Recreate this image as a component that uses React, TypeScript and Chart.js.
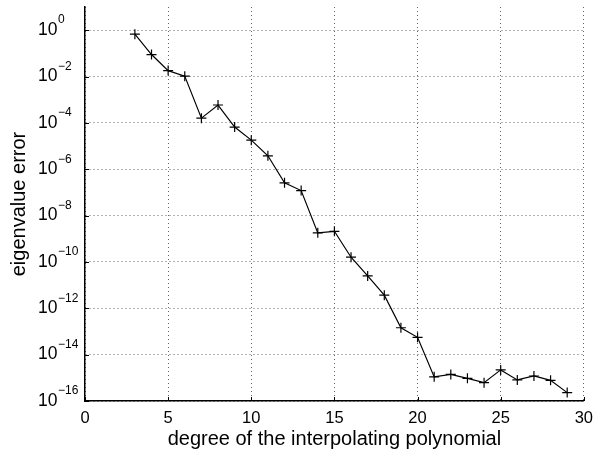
import React, { useEffect, useRef } from "react";
import { Chart, registerables } from "chart.js";

Chart.register(...registerables);

const degrees = [3, 4, 5, 6, 7, 8, 9, 10, 11, 12, 13, 14, 15, 16, 17, 18, 19, 20, 21, 22, 23, 24, 25, 26, 27, 28, 29];
const errors = [
  0.67, 0.089, 0.018, 0.0104, 1.6e-4, 5.9e-4, 6.6e-5, 1.8e-5, 3.8e-6, 2.6e-7, 1.2e-7,
  1.8e-9, 2.1e-9, 1.6e-10, 2.5e-11, 3.7e-12, 1.45e-13, 5.6e-14, 1.1e-15, 1.4e-15,
  9.5e-16, 6.2e-16, 2.2e-15, 8.1e-16, 1.2e-15, 7.8e-16, 2.3e-16,
];
const xTicks = [0, 5, 10, 15, 20, 25, 30];
const yExponents = [-16, -14, -12, -10, -8, -6, -4, -2, 0];
const xTitle = "degree of the interpolating polynomial";
const yTitle = "eigenvalue error";

const FONT = "'Liberation Sans', Arial, Helvetica, sans-serif";

export default function App() {
  const ref = useRef<HTMLCanvasElement | null>(null);

  useEffect(() => {
    if (!ref.current) return;
    const overlay = {
      id: "matlabOverlay",
      afterDraw(chart: any) {
        const ctx = chart.ctx as CanvasRenderingContext2D;
        const xs = chart.scales.x;
        const ys = chart.scales.y;
        const area = chart.chartArea;
        ctx.save();
        ctx.fillStyle = "#000";
        ctx.strokeStyle = "#000";
        ctx.lineWidth = 1;
        // inward ticks
        ctx.beginPath();
        for (const v of xTicks) {
          const px = Math.round(xs.getPixelForValue(v)) + 0.5;
          ctx.moveTo(px, area.bottom);
          ctx.lineTo(px, area.bottom - 4);
        }
        for (const e of yExponents) {
          const py = Math.round(ys.getPixelForValue(Math.pow(10, e))) + 0.5;
          ctx.moveTo(area.left, py);
          ctx.lineTo(area.left + 4, py);
        }
        ctx.stroke();
        // y tick labels with superscript exponents
        ctx.textAlign = "left";
        ctx.textBaseline = "middle";
        for (const e of yExponents) {
          const py = ys.getPixelForValue(Math.pow(10, e));
          ctx.font = `17.5px ${FONT}`;
          ctx.fillText("10", 38, py);
          const w = ctx.measureText("10").width;
          ctx.font = `12px ${FONT}`;
          const exp = e === 0 ? "0" : "\u2212" + Math.abs(e);
          ctx.fillText(exp, 38 + w + 0.5, py - 10);
        }
        // axis titles
        ctx.font = `20px ${FONT}`;
        ctx.textAlign = "center";
        ctx.textBaseline = "middle";
        ctx.fillText(xTitle, (area.left + area.right) / 2, 439);
        ctx.save();
        ctx.translate(19, (area.top + area.bottom) / 2);
        ctx.rotate(-Math.PI / 2);
        ctx.fillText(yTitle, 0, 0);
        ctx.restore();
        ctx.restore();
      },
    };

    const chart = new Chart(ref.current, {
      type: "line",
      data: {
        datasets: [
          {
            data: degrees.map((d, i) => ({ x: d, y: errors[i] })),
            borderColor: "#000",
            borderWidth: 1.2,
            pointStyle: "cross",
            pointRadius: 5,
            pointBorderWidth: 1.2,
            pointBorderColor: "#000",
            pointBackgroundColor: "#000",
            tension: 0,
            fill: false,
          },
        ],
      },
      options: {
        animation: false,
        responsive: false,
        maintainAspectRatio: false,
        layout: { padding: { top: 7, right: 17, left: 0, bottom: 0 } },
        plugins: { legend: { display: false }, tooltip: { enabled: false } },
        scales: {
          x: {
            type: "linear",
            min: 0,
            max: 30,
            afterBuildTicks: (scale: any) => {
              scale.ticks = xTicks.map((v) => ({ value: v }));
            },
            afterFit: (scale: any) => {
              scale.height = 56;
            },
            ticks: {
              color: "#000",
              font: { family: FONT, size: 16.5 },
              padding: 8,
              maxRotation: 0,
            },
            grid: {
              color: "rgba(0,0,0,0.6)",
              lineWidth: 1,
              drawTicks: false,
            },
            border: { display: true, color: "#000", width: 1.5, dash: [1, 3] },
          },
          y: {
            type: "logarithmic",
            min: 1e-16,
            max: 10,
            afterBuildTicks: (scale: any) => {
              scale.ticks = yExponents.map((e) => ({ value: Math.pow(10, e) }));
            },
            afterFit: (scale: any) => {
              scale.width = 85;
            },
            ticks: { display: false },
            grid: {
              color: "rgba(0,0,0,0.6)",
              lineWidth: 1,
              drawTicks: false,
            },
            border: { display: true, color: "#000", width: 1.5, dash: [1, 3] },
          },
        },
      },
      plugins: [overlay],
    } as any);
    return () => chart.destroy();
  }, []);

  return (
    <div style={{ position: "fixed", left: 0, top: 0, width: 601, height: 457, background: "#fff" }}>
      <canvas ref={ref} width={601} height={457} style={{ width: 601, height: 457, display: "block" }} />
    </div>
  );
}
